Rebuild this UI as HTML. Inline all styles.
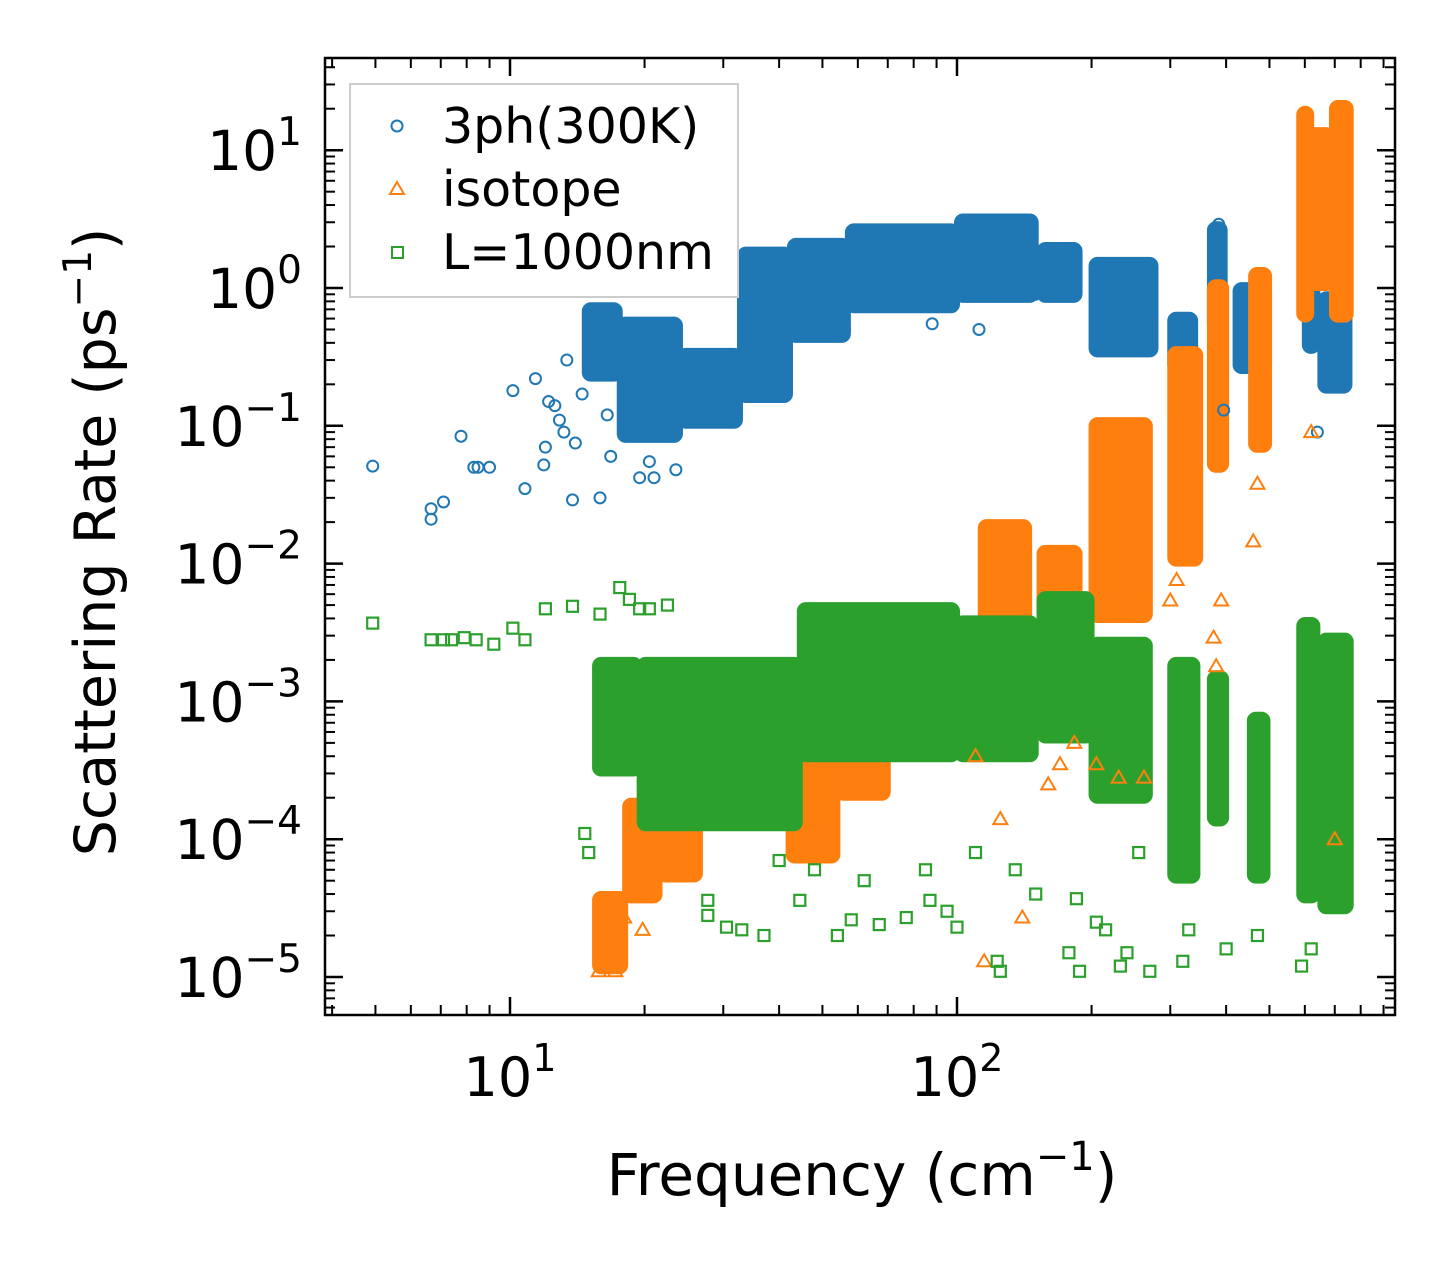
<!DOCTYPE html>
<html><head><meta charset="utf-8"><style>
html,body{margin:0;padding:0;background:#fff}
svg{display:block;font-family:"DejaVu Sans","Liberation Sans",sans-serif}
</style></head><body>
<svg id="chart" width="1455" height="1265" viewBox="0 0 1455 1265" xmlns="http://www.w3.org/2000/svg">
<g id="clusters"></g>
<g id="marks"></g>
<rect x="325" y="58" width="1070" height="957" fill="none" stroke="#000" stroke-width="2.5"/>
<g id="ticks"></g>
<text x="862" y="1195" font-size="58" text-anchor="middle">Frequency (cm<tspan font-size="40" dy="-25">−1</tspan><tspan dy="25">)</tspan></text>
<text transform="translate(115,542) rotate(-90)" font-size="57" text-anchor="middle">Scattering Rate (ps<tspan font-size="39" dy="-24">−1</tspan><tspan dy="24">)</tspan></text>
<g>
<rect x="350" y="84" width="388" height="213" fill="#fff" stroke="#ccc" stroke-width="2"/>
<circle cx="397" cy="126" r="5.5" fill="none" stroke="#1f77b4" stroke-width="2"/>
<text x="442" y="143" font-size="49">3ph(300K)</text>
<polygon points="397,182 404,194 390,194" fill="none" stroke="#ff7f0e" stroke-width="2"/>
<text x="442" y="206" font-size="49">isotope</text>
<rect x="392" y="247" width="11" height="11" fill="none" stroke="#2ca02c" stroke-width="2"/>
<text x="442" y="269" font-size="49">L=1000nm</text>
</g>
</svg>
<script>
// cluster data: freq range (cm^-1) and rate range (ps^-1)
const blueF1=[14.7,17.6,24,32.7,42.3,57,100,153,200,300,368,420,600,650];
const blueF2=[17.6,24,32.7,42.3,57,100,150,188,278,341,397,499,640,755];
const blueLo=[0.22,0.079,0.1,0.154,0.42,0.69,0.82,0.82,0.33,0.25,0.5,0.25,0.35,0.18];
const blueHi=[0.75,0.59,0.35,1.9,2.2,2.8,3.3,2.05,1.6,0.64,2.9,1.05,2.6,0.9];
const orangeF1=[15.5,18.1,21.6,42,54,113,153,200,300,368,455,583,600,690];
const orangeF2=[18.1,21.6,26.6,54,70,145,188,270,350,400,499,620,690,760];
const orangeLo=[1.1e-5,3.6e-5,5.1e-5,7e-5,2e-4,7e-4,1.4e-3,0.0039,0.01,0.048,0.067,0.59,1.0,0.59];
const orangeHi=[4e-5,1.9e-4,1.9e-4,3.8e-4,1e-3,0.02,0.013,0.11,0.36,1.1,1.35,20,14,22];
const greenF1=[15.5,19.5,44.5,100,153,200,300,368,452,583,650];
const greenF2=[19.5,44.5,100,150,200,270,345,400,495,640,760];
const greenLo=[3e-4,1.2e-4,3.8e-4,3.8e-4,5.2e-4,1.9e-4,5e-5,1.3e-4,5e-5,3.6e-5,3e-5];
const greenHi=[2e-3,2e-3,5e-3,4e-3,6e-3,2.8e-3,2e-3,1.6e-3,8e-4,3.9e-3,3e-3];
// scattered outlier points
const blueX=[4.93,6.66,6.66,7.1,7.77,8.3,8.48,9.0,10.15,10.8,11.4,11.9,12.0,12.2,12.6,12.9,13.4,13.8,14.0,15.9,13.2,14.5,15.2,16.5,18.5,19.5,20.5,21.0,23.5,22.0,16.8,56,63,88,112,150,250,385,395,640];
const blueY=[0.051,0.025,0.021,0.028,0.084,0.05,0.05,0.05,0.18,0.035,0.22,0.052,0.07,0.15,0.14,0.11,0.3,0.029,0.075,0.03,0.09,0.17,0.25,0.12,0.09,0.042,0.055,0.042,0.048,0.2,0.06,0.5,0.8,0.55,0.5,0.9,0.6,2.9,0.13,0.09];
const orangeX=[15.8,17.2,18.0,19.8,115,140,183,170,205,230,262,300,310,375,380,390,460,470,620,700,125,160,110];
const orangeY=[1.1e-5,1.1e-5,2.7e-5,2.2e-5,1.3e-5,2.7e-5,5e-4,3.5e-4,3.5e-4,2.8e-4,2.8e-4,0.0054,0.0076,0.0029,0.0018,0.0054,0.0145,0.038,0.09,1e-4,1.4e-4,2.5e-4,4e-4];
const greenX=[4.93,6.66,7.1,7.4,7.9,8.4,9.2,10.15,10.8,12.0,13.8,15.9,17.6,18.5,19.5,20.5,22.5,14.7,15.0,27.7,27.7,30.5,33,37,44.5,54,58,67,77,87,95,100,123,125,188,185,215,232,270,255,40,48,62,85,110,135,150,178,205,240,320,330,400,470,590,620];
const greenY=[0.0037,0.0028,0.0028,0.0028,0.0029,0.0028,0.0026,0.0034,0.0028,0.0047,0.0049,0.0043,0.0067,0.0055,0.0047,0.0047,0.005,1.1e-4,8e-5,3.6e-5,2.8e-5,2.3e-5,2.2e-5,2e-5,3.6e-5,2e-5,2.6e-5,2.4e-5,2.7e-5,3.6e-5,3e-5,2.3e-5,1.3e-5,1.1e-5,1.1e-5,3.7e-5,2.2e-5,1.2e-5,1.1e-5,8e-5,7e-5,6e-5,5e-5,6e-5,8e-5,6e-5,4e-5,1.5e-5,2.5e-5,1.5e-5,1.3e-5,2.2e-5,1.6e-5,2e-5,1.2e-5,1.6e-5];
const xTickVals=[10,100];
const yTickExp=[1,0,-1,-2,-3,-4,-5];

const NS='http://www.w3.org/2000/svg';
function X(f){return 510+447*(Math.log10(f)-1);}
function Y(r){return 288-137.8*Math.log10(r);}
function mk(tag,attrs,parent){const e=document.createElementNS(NS,tag);for(const k in attrs)e.setAttribute(k,attrs[k]);parent.appendChild(e);return e;}
const cl=document.getElementById('clusters');
const mg=document.getElementById('marks');
const COL={blue:'#1f77b4',orange:'#ff7f0e',green:'#2ca02c'};
function drawClusters(name,F1,F2,Lo,Hi,c){
  for(let i=0;i<F1.length;i++){
    const x1=X(F1[i]),x2=X(F2[i]),y1=Y(Hi[i]),y2=Y(Lo[i]);
    const r=mk('rect',{x:x1,y:y1,width:Math.max(4,x2-x1),height:y2-y1,rx:6,fill:c,stroke:c,'stroke-width':6},cl);
    
    
  }
}
function drawPoints(name,xs,ys,c,shape){
  for(let i=0;i<xs.length;i++){
    const x=X(xs[i]),y=Y(ys[i]);let e;
    if(shape==='c')e=mk('circle',{cx:x,cy:y,r:5.5,fill:'none',stroke:c,'stroke-width':2},mg);
    else if(shape==='t')e=mk('polygon',{points:`${x},${y-7} ${x+7},${y+5} ${x-7},${y+5}`,fill:'none',stroke:c,'stroke-width':2},mg);
    else e=mk('rect',{x:x-5.5,y:y-5.5,width:11,height:11,fill:'none',stroke:c,'stroke-width':2.2},mg);
    
    
  }
}
drawClusters('3ph',blueF1,blueF2,blueLo,blueHi,COL.blue);
drawPoints('3ph',blueX,blueY,COL.blue,'c');
drawClusters('isotope',orangeF1,orangeF2,orangeLo,orangeHi,COL.orange);
drawPoints('isotope',orangeX,orangeY,COL.orange,'t');
drawClusters('boundary',greenF1,greenF2,greenLo,greenHi,COL.green);
drawPoints('boundary',greenX,greenY,COL.green,'s');

const tg=document.getElementById('ticks');
const L=325,R=1395,T=58,B=1015;
function line(x1,y1,x2,y2,w){const e=mk('line',{x1,y1,x2,y2,stroke:'#000','stroke-width':w},tg);}
for(let d=0;d<=2;d++){for(let m=1;m<10;m++){const f=m*Math.pow(10,d);const x=X(f);if(x<L||x>R)continue;
  const len=(m===1)?18:10;const w=(m===1)?2.5:2;line(x,B,x,B-len,w);line(x,T,x,T+len,w);}}
xTickVals.forEach((v,i)=>{const t=mk('text',{x:X(v),y:1096,'font-size':54,'text-anchor':'middle'},tg);
  
  t.innerHTML='10<tspan font-size="38" dy="-25">'+Math.round(Math.log10(v))+'</tspan>';});
for(let e=-6;e<=1;e++){for(let m=1;m<10;m++){const r=m*Math.pow(10,e);const y=Y(r);if(y<T||y>B)continue;
  const len=(m===1)?18:10;const w=(m===1)?2.5:2;line(L,y,L+len,y,w);line(R,y,R-len,y,w);}}
yTickExp.forEach(ex=>{const t=mk('text',{x:302,y:Y(Math.pow(10,ex))+20,'font-size':55,'text-anchor':'end'},tg);
  
  t.innerHTML='10<tspan font-size="39" dy="-25">'+(ex<0?'−'+(-ex):ex)+'</tspan>';});
</script>
</body></html>
